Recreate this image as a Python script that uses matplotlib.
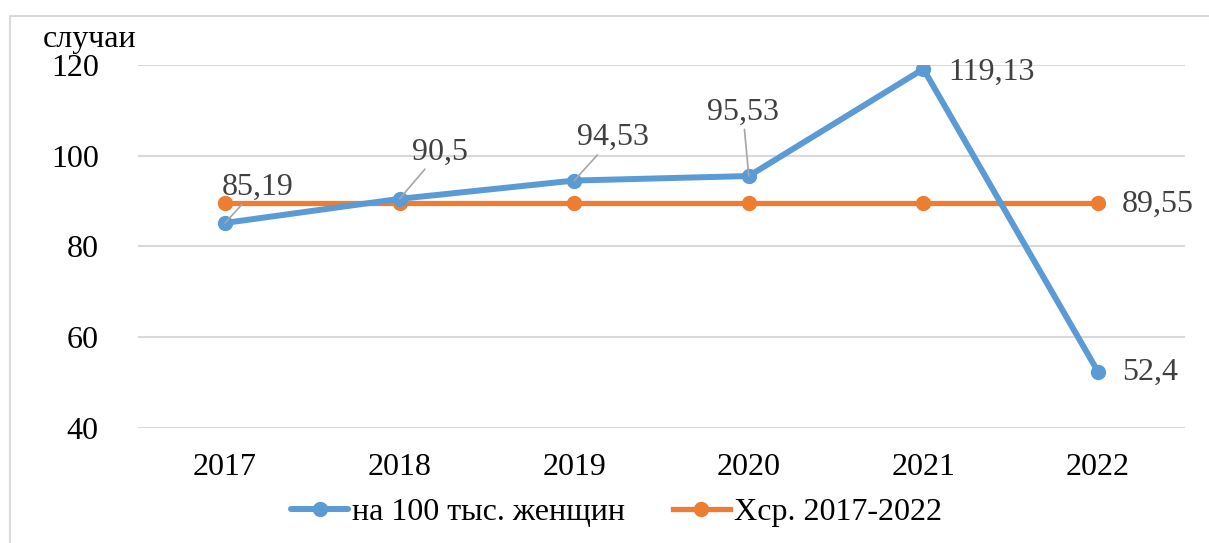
import matplotlib
matplotlib.use("Agg")
from matplotlib import pyplot as plt
from matplotlib.patches import Rectangle

years = ["2017", "2018", "2019", "2020", "2021", "2022"]
per_100k = [85.19, 90.5, 94.53, 95.53, 119.13, 52.4]
mean_value = 89.55
mean_line = [mean_value] * len(years)

blue_labels = ["85,19", "90,5", "94,53", "95,53", "119,13", "52,4"]
mean_label = "89,55"

# label offsets in pixels and whether a leader line is drawn
label_offsets = [(33, 36), (40, 47), (39, 43), (-6, 64), (25, -3), (24, -1)]
label_leaders = [True, True, True, True, False, False]

plt.rcParams['font.family'] = ['Liberation Serif', 'DejaVu Serif']

blue = '#5B9BD5'
orange = '#ED7D31'
grid = '#D9D9D9'
fs = 23

fig = plt.figure(figsize=(12.09, 5.43), dpi=100)
ax = fig.add_axes([0.1139, 0.2118, 0.8665, 0.6685])

x = list(range(len(years)))
ax.plot(x, per_100k, color=blue, lw=4.3, marker='o', ms=10,
        solid_capstyle='round', solid_joinstyle='round',
        label='на 100 тыс. женщин', zorder=4)
ax.plot(x, mean_line, color=orange, lw=3.8, marker='o', ms=10,
        label='Xср. 2017-2022', zorder=3)

ax.set_xlim(-0.5, len(years) - 0.5)
ax.set_ylim(40, 120)
ax.set_yticks([40, 60, 80, 100, 120])
ax.set_xticks(x)
ax.set_xticklabels(years)
ax.tick_params(axis='both', length=0, labelsize=fs, colors='black')
ax.tick_params(axis='y', pad=28)
ax.tick_params(axis='x', pad=18)
ax.grid(axis='y', color=grid, lw=1.5)
ax.set_axisbelow(True)
for s in ax.spines.values():
    s.set_visible(False)

for i, (v, t) in enumerate(zip(per_100k, blue_labels)):
    dx, dy = label_offsets[i]
    if label_leaders[i]:
        ax.annotate(t, (i, v), xytext=(dx, dy), textcoords='offset pixels',
                    ha='center', va='center', fontsize=fs, color='#404040',
                    arrowprops=dict(arrowstyle='-', color='#A6A6A6', lw=1.2,
                                    shrinkA=0, shrinkB=0), zorder=5)
    else:
        ax.annotate(t, (i, v), xytext=(dx, dy), textcoords='offset pixels',
                    ha='left', va='center', fontsize=fs, color='#404040')

ax.annotate(mean_label, (len(years) - 1, mean_value), xytext=(24, -1),
            textcoords='offset pixels', ha='left', va='center',
            fontsize=fs, color='#404040')

fig.text(136 / 1209, 1 - 40 / 543, 'случаи', ha='right', va='center',
         fontsize=fs, color='black')

leg = fig.legend(loc='center', bbox_to_anchor=(0.51, 0.057), ncol=2,
                 frameon=False, fontsize=fs, handlelength=1.78,
                 handletextpad=0.12, columnspacing=1.5, borderaxespad=0)

fig.patches.append(Rectangle((10 / 1209, -0.1), 1.2, 0.1 + 1 - 16 / 543,
                             transform=fig.transFigure, fill=False,
                             edgecolor=grid, lw=1.5))

fig.savefig('out.png', dpi=100)
plt.close()
